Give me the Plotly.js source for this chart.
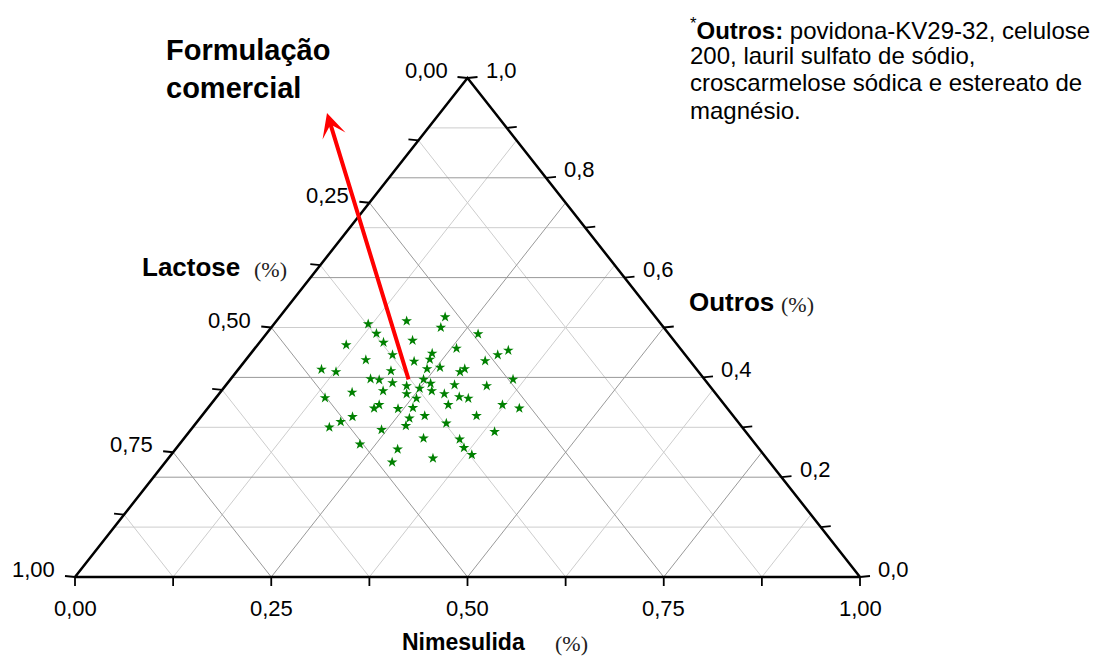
<!DOCTYPE html>
<html><head><meta charset="utf-8">
<script src="https://cdn.plot.ly/plotly-3.0.1.min.js"></script>
<style>html,body{margin:0;padding:0;background:#fff;} #chart{width:1113px;height:662px;}</style>
</head><body><div id="chart"></div>
<script>
// ---- Data (fractions) ----
const nimesulida = [0.120,0.166,0.211,0.216,0.270,0.140,0.158,0.193,0.113,0.257,0.325,0.316,0.231,0.234,0.182,0.153,0.216,0.306,0.240,0.255,0.106,0.127,0.196,0.285,0.288,0.360,0.178,0.190,0.210,0.246,0.259,0.231,0.250,0.268,0.291,0.333,0.168,0.206,0.239,0.287,0.309,0.322,0.139,0.256,0.372,0.397,0.212,0.215,0.243,0.261,0.303,0.193,0.267,0.284,0.350,0.183,0.270,0.319,0.174,0.243,0.389,0.230,0.305,0.352,0.366,0.383,0.283,0.289,0.337];
const lactose    = [0.373,0.321,0.268,0.284,0.243,0.372,0.372,0.333,0.422,0.285,0.221,0.239,0.321,0.330,0.373,0.412,0.352,0.261,0.343,0.325,0.478,0.462,0.391,0.304,0.295,0.244,0.425,0.415,0.401,0.358,0.353,0.386,0.372,0.359,0.324,0.284,0.462,0.421,0.394,0.346,0.330,0.320,0.502,0.386,0.283,0.265,0.450,0.440,0.420,0.400,0.352,0.486,0.415,0.393,0.327,0.506,0.427,0.373,0.526,0.462,0.320,0.504,0.417,0.372,0.375,0.372,0.461,0.481,0.425];
const outros     = [0.507,0.513,0.521,0.500,0.487,0.488,0.470,0.474,0.465,0.458,0.454,0.445,0.448,0.436,0.445,0.435,0.432,0.433,0.417,0.420,0.416,0.411,0.413,0.411,0.417,0.396,0.397,0.395,0.389,0.396,0.388,0.383,0.378,0.373,0.385,0.383,0.370,0.373,0.367,0.367,0.361,0.358,0.359,0.358,0.345,0.338,0.338,0.345,0.337,0.339,0.345,0.321,0.318,0.323,0.323,0.311,0.303,0.308,0.300,0.295,0.291,0.266,0.278,0.276,0.259,0.245,0.256,0.230,0.238];
const comercial = {nimesulida: 0.229, lactose: 0.378, outros: 0.393};

const nimesulidaTicks  = [0, 0.125, 0.25, 0.375, 0.5, 0.625, 0.75, 0.875, 1];
const nimesulidaLabels = ['0,00', '', '0,25', '', '0,50', '', '0,75', '', '1,00'];
const lactoseTicks     = [0, 0.125, 0.25, 0.375, 0.5, 0.625, 0.75, 0.875, 1];
const lactoseLabels    = ['0,00', '', '0,25', '', '0,50', '', '0,75', '', '1,00'];
const outrosTicks      = [0, 0.1, 0.2, 0.3, 0.4, 0.5, 0.6, 0.7, 0.8, 0.9, 1];
const outrosLabels     = ['0,0', '', '0,2', '', '0,4', '', '0,6', '', '0,8', '', '1,0'];

const noteLines = [
  '<sup>*</sup><b>Outros:</b> povidona-KV29-32, celulose',
  '200, lauril sulfato de sódio,',
  'croscarmelose sódica e estereato de',
  'magnésio.'
];

// ---- Geometry (pixel frame of the triangle) ----
const W = 1113, H = 662;
const X0 = 75, X1 = 860, YB = 577, YT = 78;
const SX = X1 - X0, SY = YB - YT;
function tern(n, o) { return [n + o / 2, o]; }
function pix(px, py) { return [(px - X0) / SX, (YB - py) / SY]; }

const minor = {x: [], y: []}, major = {x: [], y: []}, axes = {x: [], y: []}, ticks = {x: [], y: []};
function seg(t, a, b) { t.x.push(a[0], b[0], null); t.y.push(a[1], b[1], null); }

// grid
nimesulidaTicks.forEach((t, i) => {
  if (t <= 0 || t >= 1) return;
  seg(nimesulidaLabels[i] ? major : minor, [t, 0], [t + (1 - t) / 2, 1 - t]);
});
lactoseTicks.forEach((t, i) => {
  if (t <= 0 || t >= 1) return;
  seg(lactoseLabels[i] ? major : minor, [(1 - t) / 2, 1 - t], [1 - t, 0]);
});
outrosTicks.forEach((t, i) => {
  if (t <= 0 || t >= 1) return;
  seg(outrosLabels[i] ? major : minor, [t / 2, t], [1 - t / 2, t]);
});
// triangle
axes.x.push(0, 1, 0.5, 0, null); axes.y.push(0, 0, 1, 0, null);

const annotations = [];
const tickFont = {family: 'Liberation Sans, Arial, sans-serif', size: 22, color: '#000'};
nimesulidaTicks.forEach((t, i) => {
  seg(ticks, [t, 0], [t, -9 / SY]);
  if (nimesulidaLabels[i]) annotations.push({x: t, y: 0, xref: 'x', yref: 'y', text: nimesulidaLabels[i],
    showarrow: false, xanchor: 'center', yanchor: 'middle', yshift: -31, font: tickFont});
});
lactoseTicks.forEach((t, i) => {
  const p = [(1 - t) / 2, 1 - t];
  seg(ticks, p, [p[0] - 10 / SX, p[1] + 1 / SY]);
  if (lactoseLabels[i]) annotations.push({x: p[0], y: p[1], xref: 'x', yref: 'y', text: lactoseLabels[i],
    showarrow: false, xanchor: 'right', yanchor: 'middle', xshift: -18, yshift: 7.5, font: tickFont});
});
outrosTicks.forEach((t, i) => {
  const p = [1 - t / 2, t];
  seg(ticks, p, [p[0] + 10 / SX, p[1] + 1 / SY]);
  if (outrosLabels[i]) annotations.push({x: p[0], y: p[1], xref: 'x', yref: 'y', text: outrosLabels[i],
    showarrow: false, xanchor: 'left', yanchor: 'middle', xshift: 16, yshift: 8, font: tickFont});
});

function textAt(px, py, text, font, xanchor) {
  const p = pix(px, py);
  annotations.push({x: p[0], y: p[1], xref: 'x', yref: 'y', text: text, showarrow: false,
    xanchor: xanchor || 'left', yanchor: 'middle', font: font, borderpad: 0});
}
const boldFont = (s) => ({family: 'Liberation Sans, Arial, sans-serif', size: s, color: '#000', weight: 700});
const pctFont = {family: 'Liberation Serif, Times New Roman, serif', size: 22, color: '#222'};

// axis titles
textAt(241, 267, '<b>Lactose</b>', boldFont(26), 'right');
textAt(253, 269, '(%)', pctFont, 'left');
textAt(688, 302, '<b>Outros</b>', boldFont(26), 'left');
textAt(780, 304, '(%)', pctFont, 'left');
textAt(401, 642, '<b>Nimesulida</b>', boldFont(23), 'left');
textAt(554, 643, '(%)', pctFont, 'left');

// label
textAt(165, 50, '<b>Formulação</b>', boldFont(29), 'left');
textAt(165, 88, '<b>comercial</b>', boldFont(29), 'left');

// note
const noteFont = {family: 'Liberation Sans, Arial, sans-serif', size: 24, color: '#000'};
const noteY = [28.5, 55, 82.5, 110];
noteLines.forEach((t, i) => textAt(689, noteY[i], t, noteFont, 'left'));

// arrow from commercial formulation to label
const tail = tern(comercial.nimesulida, comercial.outros);
const tip = pix(327, 113);
annotations.push({x: tip[0], y: tip[1], ax: tail[0], ay: tail[1], xref: 'x', yref: 'y', axref: 'x', ayref: 'y',
  text: '', showarrow: true, arrowhead: 3, arrowsize: 1, arrowwidth: 4, arrowcolor: '#ff0000', standoff: 0, startstandoff: 0});

const starXY = nimesulida.map((n, i) => tern(n, outros[i]));

const lineTrace = (t, color, width) => ({x: t.x, y: t.y, mode: 'lines', type: 'scatter',
  line: {color: color, width: width}, hoverinfo: 'skip', showlegend: false, cliponaxis: false});

const data = [
  lineTrace(minor, '#cdcdcd', 1),
  lineTrace(major, '#999999', 1),
  lineTrace(axes, '#000', 2.5),
  lineTrace(ticks, '#000', 1.8),
  {x: starXY.map(p => p[0]), y: starXY.map(p => p[1]), mode: 'markers', type: 'scatter',
   marker: {symbol: 'star', size: 8, color: '#008000', line: {width: 0}},
   customdata: lactose, hoverinfo: 'skip', showlegend: false, cliponaxis: false}
];

const layout = {
  width: W, height: H,
  margin: {l: 0, r: 0, t: 0, b: 0, pad: 0},
  paper_bgcolor: '#fff', plot_bgcolor: '#fff',
  xaxis: {range: [-X0 / SX, (W - X0) / SX], visible: false, fixedrange: true},
  yaxis: {range: [-(H - YB) / SY, YB / SY], visible: false, fixedrange: true},
  annotations: annotations,
  showlegend: false
};

Plotly.newPlot('chart', data, layout, {staticPlot: true, displayModeBar: false});
</script>
</body></html>
